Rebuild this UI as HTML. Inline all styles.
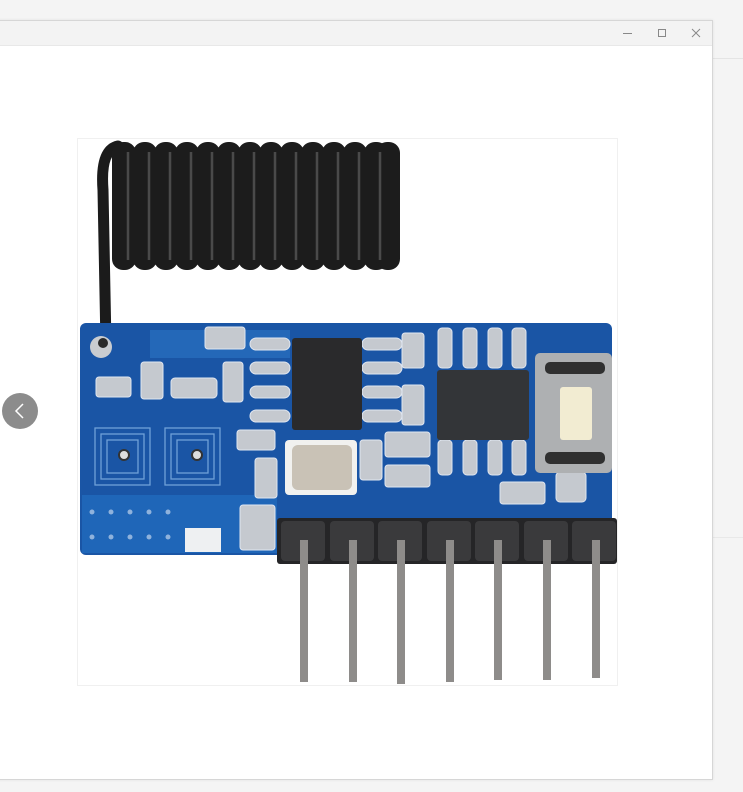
<!DOCTYPE html>
<html><head><style>
html,body{margin:0;padding:0;width:743px;height:792px;overflow:hidden;background:#f4f4f4;font-family:"Liberation Sans",sans-serif}
.win{position:absolute;left:-2px;top:20px;width:713px;height:758px;background:#fff;border:1px solid #d6d6d6;box-shadow:0 0 3px rgba(0,0,0,.08)}
.tb{position:absolute;left:0;top:0;right:0;height:24px;background:#f3f3f3;border-bottom:1px solid #e8e8e8}
.rl{position:absolute;left:712px;top:58px;width:31px;height:1px;background:#e4e4e4}
.rl2{position:absolute;left:712px;top:537px;width:31px;height:1px;background:#e8e8e8}
</style></head><body>
<div class="rl"></div><div class="rl2"></div>
<div class="win"><div class="tb">
<svg style="position:absolute;left:0;top:0" width="713" height="24">
<line x1="624" y1="12.5" x2="633" y2="12.5" stroke="#888" stroke-width="1"/>
<rect x="659.5" y="8.5" width="7" height="7" fill="none" stroke="#888"/>
<path d="M693 8l8 8M701 8l-8 8" stroke="#888" stroke-width="1"/>
</svg></div></div>
<svg style="position:absolute;left:0;top:0" width="743" height="792">
<rect x="77.5" y="138.5" width="540" height="547" fill="#fff" stroke="#f0f0f0"/>
<!-- coil -->
<path d="M106 345 L103 190 Q100 150 118 146" stroke="#1b1b1b" stroke-width="11" fill="none" stroke-linecap="round"/>
<g fill="#1c1c1c">
<rect x="112" y="142" width="24" height="128" rx="11"/><rect x="133" y="142" width="24" height="128" rx="11"/><rect x="154" y="142" width="24" height="128" rx="11"/><rect x="175" y="142" width="24" height="128" rx="11"/><rect x="196" y="142" width="24" height="128" rx="11"/><rect x="217" y="142" width="24" height="128" rx="11"/><rect x="238" y="142" width="24" height="128" rx="11"/><rect x="259" y="142" width="24" height="128" rx="11"/><rect x="280" y="142" width="24" height="128" rx="11"/><rect x="301" y="142" width="24" height="128" rx="11"/><rect x="322" y="142" width="24" height="128" rx="11"/><rect x="343" y="142" width="24" height="128" rx="11"/><rect x="364" y="142" width="24" height="128" rx="11"/><rect x="376" y="142" width="24" height="128" rx="11"/>
</g>
<g stroke="#4a4a4a" stroke-width="2.5">
<line x1="128" y1="152" x2="128" y2="260"/><line x1="149" y1="152" x2="149" y2="260"/><line x1="170" y1="152" x2="170" y2="260"/><line x1="191" y1="152" x2="191" y2="260"/><line x1="212" y1="152" x2="212" y2="260"/><line x1="233" y1="152" x2="233" y2="260"/><line x1="254" y1="152" x2="254" y2="260"/><line x1="275" y1="152" x2="275" y2="260"/><line x1="296" y1="152" x2="296" y2="260"/><line x1="317" y1="152" x2="317" y2="260"/><line x1="338" y1="152" x2="338" y2="260"/><line x1="359" y1="152" x2="359" y2="260"/><line x1="380" y1="152" x2="380" y2="260"/>
</g>
<!-- board -->
<rect x="80" y="323" width="532" height="232" rx="6" fill="#1a55a5"/>
<rect x="82" y="495" width="195" height="58" fill="#1f66b8"/>
<rect x="150" y="330" width="140" height="28" fill="#2468b8"/>
<circle cx="101" cy="347" r="11" fill="#c9ccd0"/><circle cx="103" cy="343" r="5" fill="#2a2a2a"/>
<g fill="none" stroke="#6fa0d8" stroke-width="1.3">
<rect x="95" y="428" width="55" height="57"/><rect x="101" y="434" width="43" height="45"/><rect x="107" y="440" width="31" height="33"/>
<rect x="165" y="428" width="55" height="57"/><rect x="171" y="434" width="43" height="45"/><rect x="177" y="440" width="31" height="33"/>
</g>
<circle cx="124" cy="455" r="5" fill="#ddd" stroke="#333" stroke-width="2"/><circle cx="197" cy="455" r="5" fill="#ddd" stroke="#333" stroke-width="2"/>
<g fill="#c5c9cf" stroke="#e0e6f0" stroke-width="1">
<rect x="96" y="377" width="35" height="20" rx="3"/><rect x="141" y="362" width="22" height="37" rx="3"/><rect x="171" y="378" width="46" height="20" rx="4"/>
<rect x="205" y="327" width="40" height="22" rx="3"/><rect x="223" y="362" width="20" height="40" rx="3"/>
<rect x="250" y="338" width="40" height="12" rx="6"/><rect x="250" y="362" width="40" height="12" rx="6"/><rect x="250" y="386" width="40" height="12" rx="6"/><rect x="250" y="410" width="40" height="12" rx="6"/>
<rect x="362" y="338" width="40" height="12" rx="6"/><rect x="362" y="362" width="40" height="12" rx="6"/><rect x="362" y="386" width="40" height="12" rx="6"/><rect x="362" y="410" width="40" height="12" rx="6"/>
<rect x="402" y="333" width="22" height="35" rx="3"/><rect x="402" y="385" width="22" height="40" rx="3"/>
<rect x="237" y="430" width="38" height="20" rx="3"/><rect x="255" y="458" width="22" height="40" rx="3"/><rect x="240" y="505" width="35" height="45" rx="3"/>
<rect x="360" y="440" width="22" height="40" rx="3"/><rect x="385" y="432" width="45" height="25" rx="3"/><rect x="385" y="465" width="45" height="22" rx="3"/>
<rect x="500" y="482" width="45" height="22" rx="3"/><rect x="556" y="472" width="30" height="30" rx="4"/>
<rect x="438" y="328" width="14" height="40" rx="4"/><rect x="463" y="328" width="14" height="40" rx="4"/><rect x="488" y="328" width="14" height="40" rx="4"/><rect x="512" y="328" width="14" height="40" rx="4"/>
<rect x="438" y="440" width="14" height="35" rx="4"/><rect x="463" y="440" width="14" height="35" rx="4"/><rect x="488" y="440" width="14" height="35" rx="4"/><rect x="512" y="440" width="14" height="35" rx="4"/>
</g>
<rect x="185" y="528" width="36" height="24" fill="#eef0f2"/>
<g fill="#8fb2dc"><circle cx="92" cy="512" r="2.5"/><circle cx="111" cy="512" r="2.5"/><circle cx="130" cy="512" r="2.5"/><circle cx="149" cy="512" r="2.5"/><circle cx="168" cy="512" r="2.5"/><circle cx="92" cy="537" r="2.5"/><circle cx="111" cy="537" r="2.5"/><circle cx="130" cy="537" r="2.5"/><circle cx="149" cy="537" r="2.5"/><circle cx="168" cy="537" r="2.5"/></g>
<rect x="292" y="338" width="70" height="92" rx="3" fill="#2a2a2c"/>
<rect x="437" y="370" width="92" height="70" rx="3" fill="#333538"/>
<rect x="285" y="440" width="72" height="55" rx="4" fill="#f1f1ef"/>
<rect x="292" y="445" width="60" height="45" rx="6" fill="#c9c2b6"/>
<rect x="535" y="353" width="77" height="120" rx="5" fill="#aeb0b2"/>
<rect x="545" y="362" width="60" height="12" rx="5" fill="#303030"/>
<rect x="545" y="452" width="60" height="12" rx="5" fill="#303030"/>
<rect x="560" y="387" width="32" height="53" rx="3" fill="#f2ecd2"/>
<rect x="277" y="518" width="340" height="46" rx="3" fill="#252527"/>
<g fill="#3a3a3c">
<rect x="281" y="521" width="44" height="40" rx="4"/><rect x="330" y="521" width="44" height="40" rx="4"/><rect x="378" y="521" width="44" height="40" rx="4"/><rect x="427" y="521" width="44" height="40" rx="4"/><rect x="475" y="521" width="44" height="40" rx="4"/><rect x="524" y="521" width="44" height="40" rx="4"/><rect x="572" y="521" width="44" height="40" rx="4"/>
</g>
<g fill="#8e8c8a">
<rect x="300" y="540" width="8" height="142"/><rect x="349" y="540" width="8" height="142"/><rect x="397" y="540" width="8" height="144"/><rect x="446" y="540" width="8" height="142"/><rect x="494" y="540" width="8" height="140"/><rect x="543" y="540" width="8" height="140"/><rect x="592" y="540" width="8" height="138"/>
</g>
<circle cx="20" cy="411" r="18" fill="#8c8c8c"/>
<path d="M23 404l-7 7 7 7" stroke="#fff" stroke-width="1.5" fill="none"/>
</svg>
</body></html>
